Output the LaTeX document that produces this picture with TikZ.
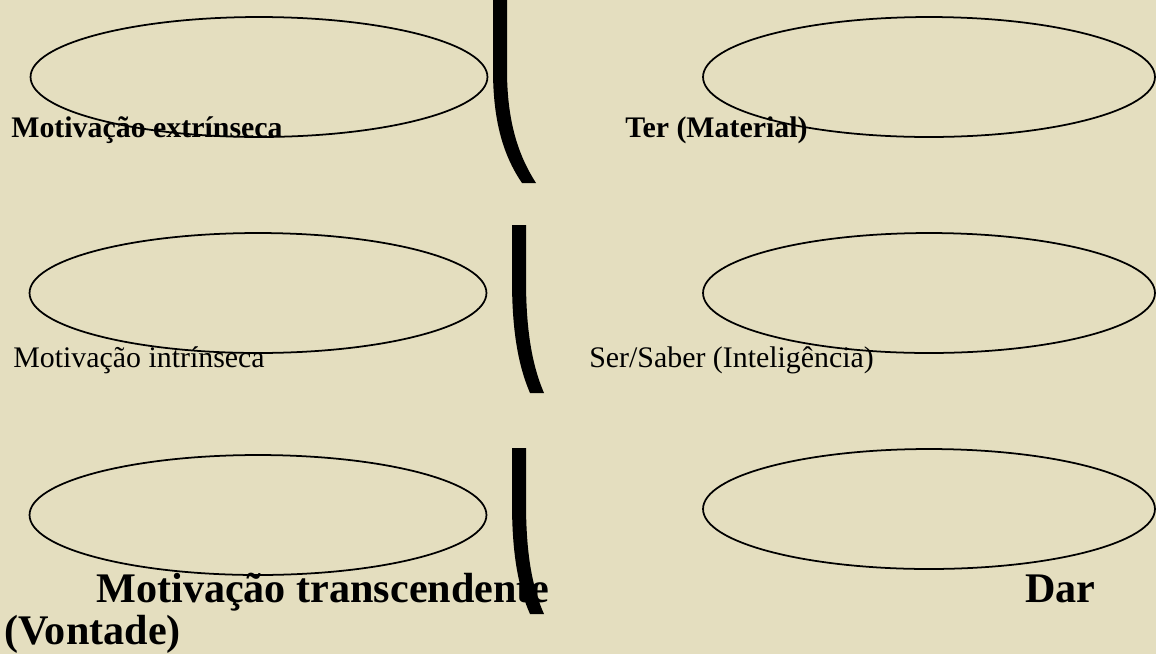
\documentclass[tikz,border=0pt]{standalone}
\usepackage{fontspec}
\setmainfont{Liberation Serif}
\usepackage{xcolor}
\usetikzlibrary{shapes.geometric, positioning}

\definecolor{parchment}{RGB}{228,222,191}

\begin{document}
\begin{tikzpicture}[
    x=0.02cm, y=-0.02cm,
    % Define simple, standard styles
    oval/.style={ellipse, draw=black, line width=1pt, minimum width=9.14cm, minimum height=2.4cm, inner sep=0pt},
    label/.style={anchor=base west, inner sep=0pt, font=\fontsize{17}{20}\selectfont},
    biglabel/.style={anchor=base west, inner sep=0pt, font=\fontsize{24}{28}\selectfont\bfseries},
    bracket/.style={fill=black, draw=none}
]

% Background
\fill[parchment] (0,0) rectangle (1156,654);
\useasboundingbox (0,0) rectangle (1156,654);

% 1. Left column ovals
\node[oval] (ovalext) at (259,77) {};
\node[oval] (ovalint) at (258,293) {};
\node[oval] (ovaltra) at (258,515) {};

% 2. Right column ovals
\node[oval, minimum width=9.04cm] (ovalter) at (929,77) {};
\node[oval, minimum width=9.04cm] (ovalser) at (929,293) {};
\node[oval, minimum width=9.04cm] (ovaldar) at (929,509) {};

% 3. Dividing brackets
\fill[bracket] (493,-5) -- (493,70) .. controls (493,125) and (505,158) .. (522,183)
    -- (536,183) .. controls (520,158) and (507,125) .. (507,70) -- (507,-5) -- cycle;
\fill[bracket] (512,225) -- (512,280) .. controls (512,330) and (518,365) .. (530,393)
    -- (544,393) .. controls (532,365) and (526,330) .. (526,280) -- (526,225) -- cycle;

% 4. Labels
\node[label, font=\fontsize{17}{20}\selectfont\bfseries] (extlabel) at (11,137) {Motivação extrínseca};
\node[label, font=\fontsize{17}{20}\selectfont\bfseries] (terlabel) at (625,137) {Ter (Material)};
\node[label] (intlabel) at (13,367) {Motivação intrínseca};
\node[label] (serlabel) at (589,367) {Ser/Saber (Inteligência)};
\node[biglabel] (tralabel) at (96,602) {Motivação transcendente};
\node[biglabel] (darlabel) at (1025,602) {Dar};
\node[biglabel] (vonlabel) at (4,644) {(Vontade)};

% Last bracket drawn over the text
\fill[bracket] (512,448) -- (512,503) .. controls (512,553) and (518,587) .. (530,614)
    -- (544,614) .. controls (532,587) and (526,553) .. (526,503) -- (526,448) -- cycle;

\end{tikzpicture}
\end{document}
